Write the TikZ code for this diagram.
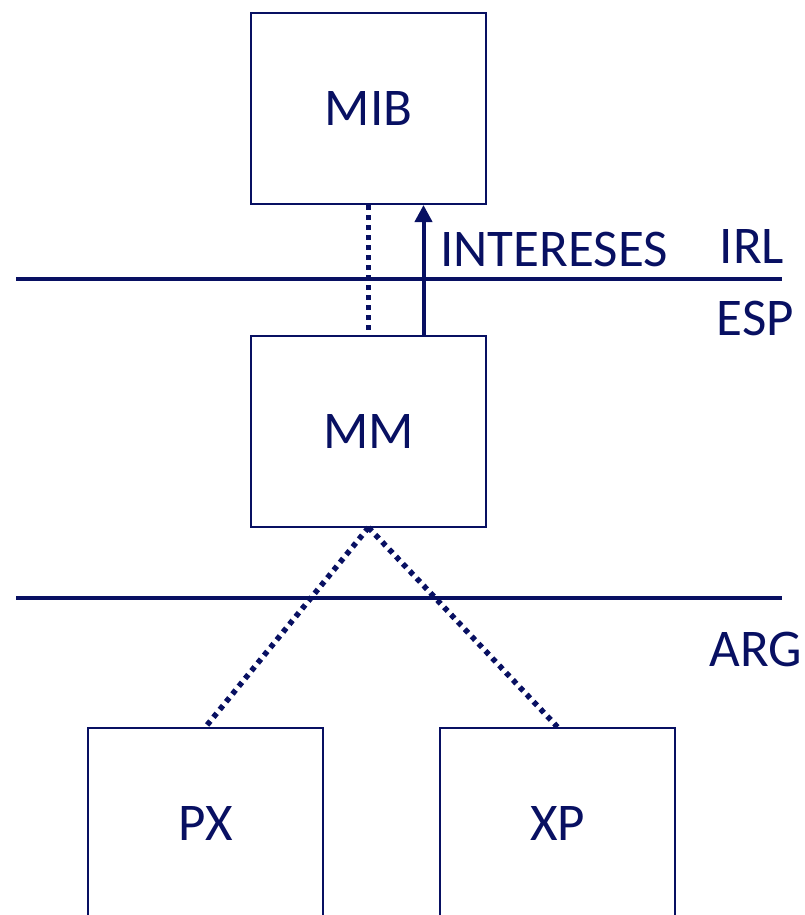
\documentclass[tikz,border=0pt]{standalone}
\usepackage{fontspec}
\setmainfont{Carlito}
\usetikzlibrary{arrows.meta}
\definecolor{navy}{RGB}{8,16,98}
\tikzset{
  unitbox/.style={draw=navy, line width=2pt, minimum width=235pt, minimum height=191pt,
    inner sep=0pt, text=navy, font=\fontsize{53}{60}\selectfont},
  divider/.style={draw=navy, line width=4pt},
  link/.style={draw=navy, line width=5.5pt, dash pattern=on 5pt off 5pt},
  flow/.style={draw=navy, line width=4pt, -{Triangle[length=17pt,width=17pt]}},
  tag/.style={text=navy, inner sep=0pt, anchor=base, font=\fontsize{53}{60}\selectfont}
}
\begin{document}
\begin{tikzpicture}[x=1pt,y=1pt]
  \useasboundingbox (0,0) rectangle (805,-915);
  \clip (0,0) rectangle (805,-915);
  % boxes
  \node[unitbox] (MIB) at (368.5,-108.5) {MIB};
  \node[unitbox] (MM)  at (368.5,-431)   {MM};
  \node[unitbox] (PX)  at (205.5,-823.5) {PX};
  \node[unitbox] (XP)  at (557.5,-823.5) {XP};
  % layer dividers
  \coordinate (d1l) at (16,-279);  \coordinate (d1r) at (782,-279);
  \coordinate (d2l) at (16,-598);  \coordinate (d2r) at (782,-598);
  \draw[divider] (d1l) -- (d1r);
  \draw[divider] (d2l) -- (d2r);
  % connectors
  \draw[link] (MIB.south) -- (MM.north);
  \draw[flow] ([xshift=55pt]MM.north) -- ([xshift=55pt]MIB.south);
  \draw[link] (MM.south) -- (PX.north);
  \draw[link] (MM.south) -- (XP.north);
  % labels
  \node[tag] (int) at (554,-266) {INTERESES};
  \node[tag] (irl) at (752,-263) {IRL};
  \node[tag] (esp) at (755.5,-335) {ESP};
  \node[tag] (arg) at (756,-666) {ARG};
\end{tikzpicture}
\end{document}
